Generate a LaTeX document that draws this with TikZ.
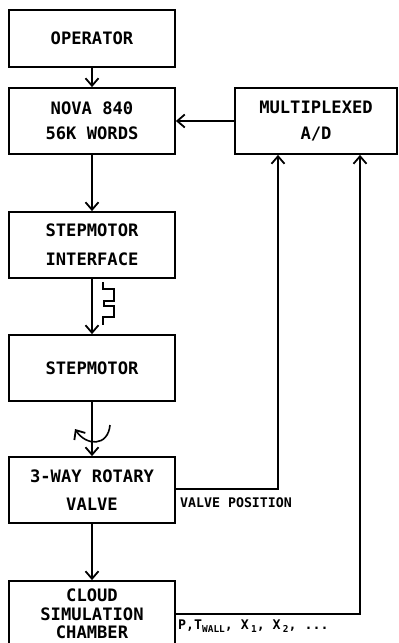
\documentclass[tikz,border=0pt]{standalone}
\usepackage{fontspec}
\newfontfamily\plotfont{DejaVu Sans Mono}
\usetikzlibrary{arrows.meta}
\newcommand\subtxt[1]{\raisebox{-3.5pt}{\fontsize{9.5}{10}\selectfont #1}}
\begin{document}
\begin{tikzpicture}[x=1bp,y=-1bp,
  box/.style={draw, line width=1.8bp, minimum width=166bp, minimum height=66bp,
    inner sep=0pt, align=center, font=\plotfont\bfseries\fontsize{17.2}{25.5}\selectfont},
  lbl/.style={font=\plotfont\bfseries\fontsize{13.3}{14}\selectfont, inner sep=0pt, anchor=west},
  conn/.style={line width=2bp},
  arr/.style={conn, -{Straight Barb[length=7.5bp,width=13bp,line width=1.8bp]}}]
\useasboundingbox (0,0) rectangle (398,643);

\node[box, minimum height=57bp] (op) at (92,38.5) {OPERATOR};
\node[box] (nova) at (92,121) {NOVA 840\\56K WORDS};
\node[box, minimum width=162bp] (mux) at (316,121) {MULTIPLEXED\\A/D};
\node[box, font=\plotfont\bfseries\fontsize{17.2}{29}\selectfont] (smi) at (92,245) {STEPMOTOR\\INTERFACE};
\node[box] (sm) at (92,368) {STEPMOTOR};
\node[box, font=\plotfont\bfseries\fontsize{17.2}{27.5}\selectfont] (valve) at (92,490) {3-WAY ROTARY\\VALVE};
\node[box, font=\plotfont\bfseries\fontsize{17.2}{18.5}\selectfont] (cloud) at (92,614) {CLOUD\\SIMULATION\\CHAMBER};

\draw[arr] (op.south) -- (op.south |- nova.north);
\draw[arr] (mux.west) -- (nova.east |- mux.west);
\draw[arr] (nova.south) -- (nova.south |- smi.north);
\draw[arr] (smi.south) -- (smi.south |- sm.north);
\draw[arr] (sm.south) -- (valve.north);
\draw[arr] (valve.south) -- (cloud.north);

% pulse train symbol
\draw[conn, line width=1.6bp] (103,282) -- (103,289) -- (114,289) -- (114,301) -- (104,301)
  -- (104,306) -- (114,306) -- (114,317) -- (103,317) -- (103,325);
% rotation symbol
\draw[arr, line width=1.6bp] (110,425) .. controls (108,447) and (86,446) .. (75,429);

\coordinate (vp) at ([xshift=-38bp]mux.south);
\coordinate (pt) at ([xshift=44bp]mux.south);
\draw[arr] ([yshift=1bp]valve.east) -| (vp);
\draw[arr] (cloud.east) -| (pt);

\node[lbl] (vpl) at (180,502.5) {VALVE POSITION};
\node[lbl] (ptl) at (178,626) {P,T\subtxt{WALL}, X\,\subtxt{1}, X\,\subtxt{2}, ...};
\end{tikzpicture}
\end{document}
